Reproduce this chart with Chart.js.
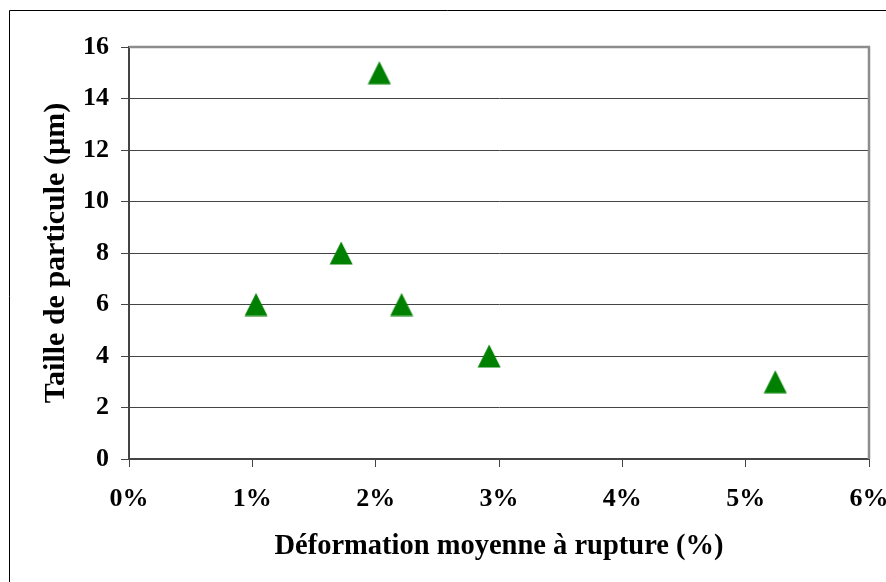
<!DOCTYPE html>
<html>
<head>
<meta charset="utf-8">
<script src="https://cdn.jsdelivr.net/npm/chart.js@4"></script>
<style>
  html, body { margin: 0; padding: 0; background: #fff; }
  canvas { display: block; }
</style>
</head>
<body>
<canvas id="chart" width="886" height="582"></canvas>
<script>
// strain at rupture (%) and particle size (µm)
const strainPct = [1.03, 1.72, 2.03, 2.21, 2.92, 5.24];
const particleSize = [6, 8, 15, 6, 4, 3];
const xTitle = 'Déformation moyenne à rupture (%)';
const yTitle = 'Taille de particule (µm)';

const FONT = 'Liberation Serif, Times New Roman, serif';

// green triangle marker, centred on its bounding box like Excel
const marker = document.createElement('canvas');
marker.width = 24;
marker.height = 24;
(() => {
  const c = marker.getContext('2d');
  c.fillStyle = '#008000';
  c.beginPath();
  c.moveTo(12, 0.5);
  c.lineTo(23.5, 23.5);
  c.lineTo(0.5, 23.5);
  c.closePath();
  c.fill();
})();

const framePlugin = {
  id: 'frame',
  beforeDraw(chart) {
    const ctx = chart.ctx;
    ctx.save();
    ctx.fillStyle = '#fff';
    ctx.fillRect(0, 0, chart.width, chart.height);
    ctx.strokeStyle = '#000';
    ctx.lineWidth = 1;
    ctx.beginPath();
    ctx.moveTo(9.5, chart.height);
    ctx.lineTo(9.5, 10.5);
    ctx.lineTo(chart.width, 10.5);
    ctx.stroke();
    ctx.restore();
  },
  beforeDatasetsDraw(chart) {
    const { ctx, chartArea: a } = chart;
    ctx.save();
    ctx.strokeStyle = '#8c8c8c';
    ctx.lineWidth = 2.5;
    ctx.beginPath();
    ctx.moveTo(a.left, a.top);
    ctx.lineTo(a.right, a.top);
    ctx.lineTo(a.right, a.bottom);
    ctx.stroke();
    ctx.restore();
  }
};

new Chart(document.getElementById('chart'), {
  type: 'scatter',
  data: {
    datasets: [{
      data: strainPct.map((x, i) => ({ x, y: particleSize[i] })),
      pointStyle: marker,
      backgroundColor: '#008000',
      borderColor: '#008000'
    }]
  },
  options: {
    responsive: false,
    animation: false,
    layout: { padding: { left: 38, top: 47, right: 17, bottom: 18 } },
    plugins: {
      legend: { display: false },
      tooltip: { enabled: false }
    },
    scales: {
      x: {
        type: 'linear',
        min: 0,
        max: 6,
        ticks: {
          stepSize: 1,
          padding: 17,
          color: '#000',
          font: { family: FONT, size: 26, weight: 'bold' },
          callback: v => v + '%'
        },
        grid: {
          drawOnChartArea: false,
          drawTicks: true,
          tickLength: 8,
          color: '#444',
          lineWidth: 1
        },
        border: { color: '#444', width: 2 },
        title: {
          display: true,
          text: xTitle,
          color: '#000',
          padding: 0,
          font: { family: FONT, size: 28.5, weight: 'bold' }
        },
        afterFit(s) {
          s.height = 105;
          s.paddingLeft = 0;
          s.paddingRight = 0;
        }
      },
      y: {
        min: 0,
        max: 16,
        ticks: {
          stepSize: 2,
          padding: 12,
          color: '#000',
          font: { family: FONT, size: 26, weight: 'bold' }
        },
        grid: {
          drawTicks: true,
          tickLength: 8,
          color: '#444',
          lineWidth: 1
        },
        border: { color: '#444', width: 2 },
        title: {
          display: true,
          text: yTitle,
          color: '#000',
          padding: 0,
          font: { family: FONT, size: 30, weight: 'bold' }
        },
        afterFit(s) {
          s.width = 91;
          s.paddingTop = 0;
          s.paddingBottom = 0;
        }
      }
    }
  },
  plugins: [framePlugin]
});
</script>
</body>
</html>
